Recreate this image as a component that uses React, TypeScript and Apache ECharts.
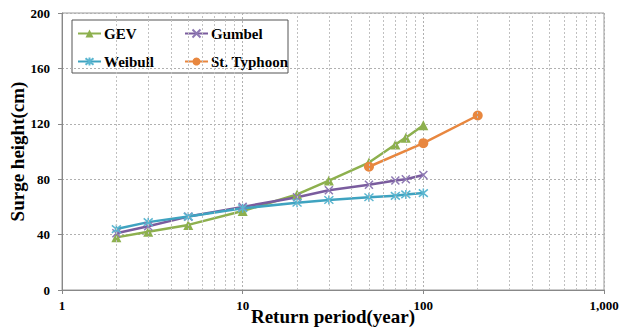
import React, { useEffect, useRef } from "react";
import * as echarts from "echarts";

const RETURN_PERIODS = [2, 3, 5, 10, 20, 30, 50, 70, 80, 100];
const GEV = [38, 42, 47, 57, 69, 79, 92, 105, 110, 119];
const GUMBEL = [41, 46, 53, 60, 67, 72, 76, 79, 80, 83];
const WEIBULL = [44, 49, 53, 59, 63, 65, 67, 68, 69, 70];
const TYPHOON_PERIODS = [50, 100, 200];
const TYPHOON = [89, 106, 126];
const MINOR_TICKS = [2, 3, 4, 5, 6, 7, 8, 9, 20, 30, 40, 50, 60, 70, 80, 90, 200, 300, 400, 500, 600, 700, 800, 900];

const FONT = "'Liberation Serif', 'Times New Roman', serif";

const pair = (xs: number[], ys: number[]) => xs.map((x, i) => [x, ys[i]]);

export default function App() {
  const ref = useRef<HTMLDivElement>(null);
  useEffect(() => {
    if (!ref.current) return;
    const chart = echarts.init(ref.current, null, { renderer: "svg" });
    const labelStyle = { fontFamily: FONT, fontWeight: "bold" as const, fontSize: 14, color: "#000" };
    const mkSeries = (name: string, data: number[][], color: string, symbol: string, symbolSize: number, markerColor: string, stroke: boolean) => ({
      name,
      type: "line",
      data,
      symbol,
      symbolSize,
      showSymbol: true,
      lineStyle: { color, width: 2.5 },
      itemStyle: stroke
        ? { color: markerColor, borderColor: markerColor, borderWidth: 1.5 }
        : { color: markerColor },
      z: 3,
    });
    const legendCommon = {
      orient: "vertical",
      top: 26,
      padding: 0,
      itemWidth: 23,
      itemHeight: 10,
      itemGap: 13,
      textStyle: { ...labelStyle, fontSize: 15, padding: [0, 0, 0, -2] },
    };
    chart.setOption({
      animation: false,
      grid: {
        left: 62, right: 17, top: 13, bottom: 43,
        outerBoundsMode: "none",
        containLabel: false,
        show: true, borderColor: "#9a9a9a", borderWidth: 1,
      },
      legend: [
        { ...legendCommon, left: 77, data: ["GEV", "Weibull"] },
        { ...legendCommon, left: 184, data: ["Gumbel", "St. Typhoon"] },
      ],
      graphic: [
        {
          type: "rect",
          shape: { x: 72, y: 20, width: 216, height: 53 },
          style: { fill: "#fff", stroke: "#555", lineWidth: 1 },
          z: 0,
        },
      ],
      xAxis: {
        type: "log",
        logBase: 10,
        min: 1,
        max: 1000,
        name: "Return period(year)",
        nameLocation: "middle",
        nameGap: 17,
        nameMoveOverlap: false,
        nameTextStyle: { fontFamily: FONT, fontWeight: "bold", fontSize: 19, color: "#000" },
        axisLine: { lineStyle: { color: "#888", width: 1 } },
        axisTick: { show: true, inside: false, length: 4, lineStyle: { color: "#888" } },
        axisLabel: {
          ...labelStyle,
          fontSize: 13,
          margin: 9,
          formatter: (v: number) => Math.round(v).toLocaleString("en-US"),
        },
        splitLine: { show: true, lineStyle: { color: "#b0b0b0", type: [2, 2], width: 1 } },
      },
      yAxis: {
        type: "value",
        min: 0,
        max: 200,
        interval: 40,
        name: "Surge height(cm)",
        nameLocation: "middle",
        nameGap: 35,
        nameMoveOverlap: false,
        nameTextStyle: { fontFamily: FONT, fontWeight: "bold", fontSize: 19, color: "#000" },
        axisLine: { show: true, lineStyle: { color: "#888", width: 1 } },
        axisTick: { show: true, inside: false, length: 4, lineStyle: { color: "#888" } },
        axisLabel: { ...labelStyle, fontSize: 13, margin: 12 },
        splitLine: { show: true, lineStyle: { color: "#b0b0b0", type: [2, 2], width: 1 } },
      },
      series: [
        {
          name: "_minor",
          type: "line",
          data: [[2, 0]],
          symbol: "none",
          lineStyle: { opacity: 0 },
          silent: true,
          z: 1,
          markLine: {
            silent: true,
            symbol: ["none", "none"],
            label: { show: false },
            lineStyle: { color: "#c0c0c0", type: [2, 2], width: 1 },
            data: MINOR_TICKS.map((v) => ({ xAxis: v })),
          },
        },
        mkSeries("GEV", pair(RETURN_PERIODS, GEV), "#8DB04E", "triangle", 10, "#8DB04E", false),
        mkSeries("Gumbel", pair(RETURN_PERIODS, GUMBEL), "#7A5C9E", "path://M0,0L10,10M10,0L0,10", 8, "#8E79B4", true),
        mkSeries("Weibull", pair(RETURN_PERIODS, WEIBULL), "#3FA3C0", "path://M0,0L10,10M10,0L0,10M5,-1L5,11", 9, "#5BB6D0", true),
        mkSeries("St. Typhoon", pair(TYPHOON_PERIODS, TYPHOON), "#E8873F", "circle", 10, "#E8873F", false),
      ],
    });
    return () => chart.dispose();
  }, []);
  return <div ref={ref} style={{ width: 621, height: 333, position: "absolute", left: 0, top: 0 }} />;
}
